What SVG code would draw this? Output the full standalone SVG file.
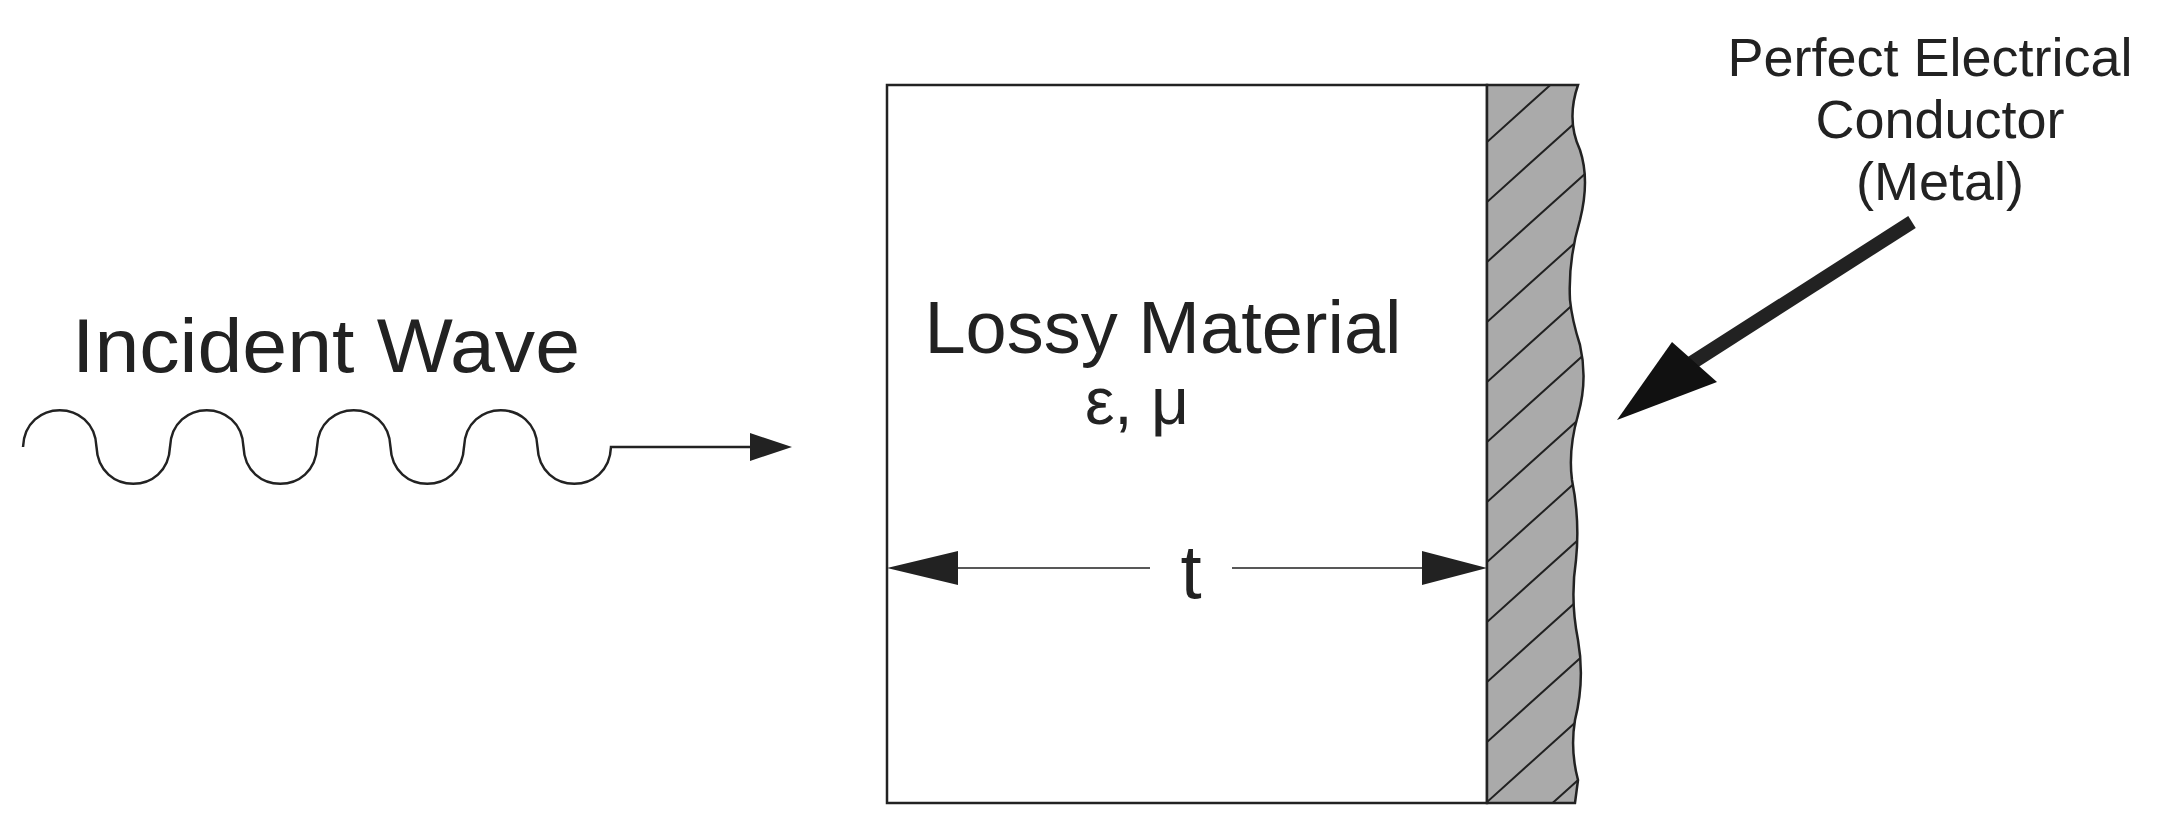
<svg xmlns="http://www.w3.org/2000/svg" width="2172" height="838" viewBox="0 0 2172 838">
<style>
text{font-family:"Liberation Sans",Arial,sans-serif;fill:#222}
.ln{stroke:#222;fill:none}
</style>
<defs>
<clipPath id="mc"><path id="mp" d="M1487,85 L1578,85 Q1566,120 1580,150 Q1590,180 1580,220 Q1568,260 1570,300 Q1572,320 1580,345 Q1588,380 1578,415 Q1568,450 1572,480 Q1580,520 1576,560 Q1570,600 1578,640 Q1585,680 1575,720 Q1570,750 1578,780 L1575,803 L1487,803 Z"/></clipPath>
</defs>
<rect width="2172" height="838" fill="#fff"/>
<g id="lossy">
<rect x="887" y="85" width="600" height="718" fill="#fff" stroke="#222" stroke-width="2.5"/>
<text x="1163" y="353" font-size="74" text-anchor="middle">Lossy Material</text>
<text x="1137" y="424" font-size="66" text-anchor="middle">ε, μ</text>
</g>
<g id="metal">
<use href="#mp" fill="#aaa"/>
<g clip-path="url(#mc)" class="ln" stroke-width="2">
<path d="M1487,142 l100,-90 M1487,202 l100,-90 M1487,262 l100,-90 M1487,322 l100,-90 M1487,382 l100,-90 M1487,442 l100,-90 M1487,502 l100,-90 M1487,562 l100,-90 M1487,622 l100,-90 M1487,682 l100,-90 M1487,742 l100,-90 M1487,802 l100,-90 M1517,835 l100,-90"/>
</g>
<use href="#mp" class="ln" stroke-width="2.5"/>
</g>
<g id="incident">
<text x="72" y="372" font-size="76" textLength="508" lengthAdjust="spacingAndGlyphs">Incident Wave</text>
</g>
<g id="pec-label" font-size="54" text-anchor="middle">
<text x="1930" y="76">Perfect Electrical</text>
<text x="1940" y="138">Conductor</text>
<text x="1940" y="200">(Metal)</text>
</g>
<g id="connectors">
<path class="ln" stroke-width="2.5" d="M23,447 c2,-49 71.5,-49 73.5,0 c2,49 71.5,49 73.5,0 c2,-49 71.5,-49 73.5,0 c2,49 71.5,49 73.5,0 c2,-49 71.5,-49 73.5,0 c2,49 71.5,49 73.5,0 c2,-49 71.5,-49 73.5,0 c2,49 71.5,49 73.5,0 H750"/>
<path d="M792,447 L750,433 L750,461 Z" fill="#222"/>
<path class="ln" stroke-width="1.5" d="M950,568 H1150 M1232,568 H1425"/>
<path d="M887,568 L958,551 L958,585 Z M1487,568 L1422,551 L1422,585 Z" fill="#222"/>
<text x="1191" y="598" font-size="76" text-anchor="middle">t</text>
<path class="ln" stroke-width="14" d="M1912,222 L1690,364"/>
<path d="M1617,420 L1672,342 L1717,382 Z" fill="#111"/>
</g>
</svg>
